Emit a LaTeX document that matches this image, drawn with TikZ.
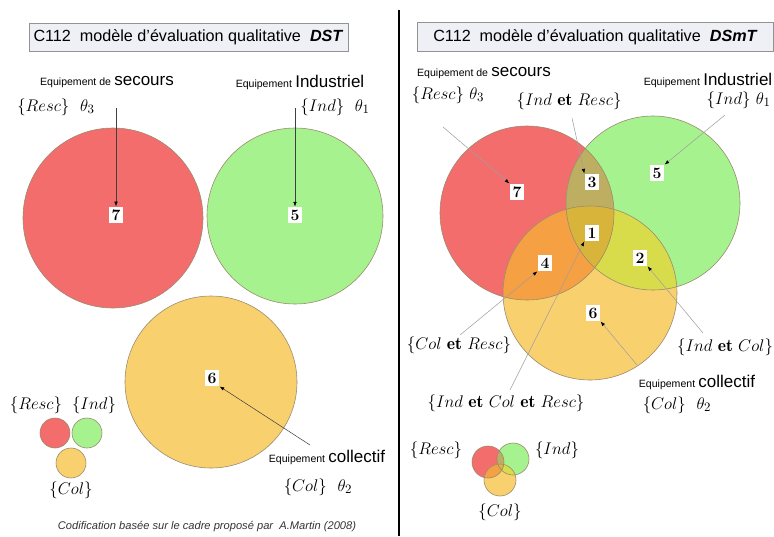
\documentclass[tikz,border=0pt]{standalone}
\usepackage{amsmath,amssymb}
\usepackage{fontspec}
\setsansfont{Liberation Sans}
\usetikzlibrary{arrows.meta}
\definecolor{rescC}{HTML}{F36D6D}
\definecolor{indC}{HTML}{A6F28E}
\definecolor{colC}{HTML}{F8D06E}
\definecolor{oliveC}{HTML}{BDAE62}
\definecolor{orangeC}{HTML}{F5A043}
\definecolor{limeC}{HTML}{D9DC4A}
\definecolor{goldC}{HTML}{D9B43A}
\definecolor{ringC}{HTML}{9A8A70}
\definecolor{headC}{HTML}{EEF0F6}
\newcommand{\equiplbl}[2]{{\fontsize{9}{11}\selectfont #1} {\fontsize{14.5}{16}\selectfont #2}}
\newcommand{\vennfill}[4]{%
  \fill[rescC] (#1) circle[radius=#4];
  \fill[indC] (#2) circle[radius=#4];
  \fill[colC] (#3) circle[radius=#4];
  \begin{scope}\clip (#2) circle[radius=#4]; \fill[limeC] (#3) circle[radius=#4];\end{scope}
  \begin{scope}\clip (#1) circle[radius=#4];
    \fill[oliveC] (#2) circle[radius=#4]; \fill[orangeC] (#3) circle[radius=#4];
    \clip (#2) circle[radius=#4]; \fill[goldC] (#3) circle[radius=#4];\end{scope}
  \draw[ring] (#1) circle[radius=#4] (#2) circle[radius=#4] (#3) circle[radius=#4];}

\begin{document}
\begin{tikzpicture}[x=0.3mm, y=-0.3mm, font=\fontsize{15}{17}\selectfont,
  headbox/.style={draw=gray!85, fill=headC, line width=0.8pt, minimum height=8.6mm, font=\sffamily\fontsize{13.8}{16}\selectfont},
  num/.style={fill=white, inner xsep=2.5pt, inner ysep=2.5pt, font=\bfseries\fontsize{13.5}{15}\selectfont},
  equip/.style={font=\sffamily},
  ring/.style={draw=ringC, line width=0.5pt},
  ptr/.style={-{Latex[length=4pt,width=3pt,color=black]}, draw=gray!75, line width=0.45pt},
  ptrdark/.style={ptr, draw=black!75}]
\useasboundingbox (0,0) rectangle (774,536);
\draw[line width=1.5pt] (399,10) -- (399,536);
% DST
\node[headbox, minimum width=95.7mm] (headL) at (188.5,37.5) {C112\ \ modèle d'évaluation qualitative\ \ \textbf{\textit{DST}}};
\fill[rescC] (113,218) circle[radius=27mm]; \draw[ring] (113,218) circle[radius=27mm];
\fill[indC] (295,216) circle[radius=26.4mm]; \draw[ring] (295,216) circle[radius=26.4mm];
\fill[colC] (211,382) circle[radius=25.8mm]; \draw[ring] (211,382) circle[radius=25.8mm];
\node[equip] (secL) at (107,82) {\equiplbl{Equipement de}{secours}};
\node (rescL) at (56,107) {$\{Resc\}\ \ \theta_3$};
\node[equip] (indtxtL) at (300,82) {\equiplbl{Equipement}{Industriel}};
\node (indL) at (335,107) {$\{Ind\}\ \ \theta_1$};
\node[equip] (coltxtL) at (327,457) {\equiplbl{Equipement}{collectif}};
\node (colL) at (318,487) {$\{Col\}\ \ \theta_2$};
\node[num] (n7L) at (116,215) {7};
\node[num] (n5L) at (295,215) {5};
\node[num] (n6L) at (212,378) {6};
\coordinate (p7L) at (116,108);
\coordinate (p5L) at (295,108);
\coordinate (p6L) at (310,445);
\draw[ptrdark] (p7L) -- (n7L.north);
\draw[ptrdark] (p5L) -- (n5L.north);
\draw[ptrdark] (p6L) -- (n6L.south east);
\fill[rescC] (55,433) circle[radius=4.5mm]; \draw[ring] (55,433) circle[radius=4.5mm];
\fill[indC] (87,433) circle[radius=4.5mm]; \draw[ring] (87,433) circle[radius=4.5mm];
\fill[colC] (71,463) circle[radius=4.5mm]; \draw[ring] (71,463) circle[radius=4.5mm];
\node (sRescL) at (36,405) {$\{Resc\}$};
\node (sIndL) at (94,405) {$\{Ind\}$};
\node (sColL) at (71,490) {$\{Col\}$};
\node[font=\sffamily\itshape\fontsize{9.5}{11}\selectfont, text=black!80] (credit) at (207,527) {Codification basée sur le cadre proposé par\ \ A.Martin (2008)};
% DSmT
\node[headbox, minimum width=106.8mm] (headR) at (595.5,37) {C112\ \ modèle d'évaluation qualitative\ \ \textbf{\textit{DSmT}}};
\coordinate (R) at (527,213); \coordinate (G) at (653,203); \coordinate (Y) at (590,293);
\vennfill{R}{G}{Y}{26.1mm}
\node[equip] (secR) at (484,73) {\equiplbl{Equipement de}{secours}};
\node (rescR) at (448,95) {$\{Resc\}\ \theta_3$};
\node (irR) at (569,101) {$\{Ind\ \mathbf{et}\ Resc\}$};
\node[equip] (indtxtR) at (708,80) {\equiplbl{Equipement}{Industriel}};
\node[anchor=east, inner sep=1pt] (indR) at (772,100) {$\{Ind\}\ \theta_1$};
\node (crR) at (459,345) {$\{Col\ \mathbf{et}\ Resc\}$};
\node (icrR) at (506,403) {$\{Ind\ \mathbf{et}\ Col\ \mathbf{et}\ Resc\}$};
\node (icR) at (725,347) {$\{Ind\ \mathbf{et}\ Col\}$};
\node[equip] (coltxtR) at (697,382) {\equiplbl{Equipement}{collectif}};
\node (colR) at (677,405) {$\{Col\}\ \ \theta_2$};
\node[num] (n7R) at (517,192) {7};
\node[num] (n3R) at (592,182) {3};
\node[num] (n5R) at (657,173) {5};
\node[num] (n1R) at (592,233) {1};
\node[num] (n4R) at (545,263) {4};
\node[num] (n2R) at (640,258) {2};
\node[num] (n6R) at (593,313) {6};
\coordinate (p7R) at (443,127);
\coordinate (p3R) at (572,118);
\coordinate (p5R) at (725,115);
\coordinate (p4R) at (460,335);
\coordinate (p1R) at (510,390);
\coordinate (p2R) at (703,333);
\coordinate (p6R) at (637,365);
\draw[ptr] (p7R) -- (n7R.north west);
\draw[ptr] (p3R) -- (n3R.north west);
\draw[ptr] (p5R) -- (n5R.north east);
\draw[ptr] (p4R) -- (n4R.south west);
\draw[ptr] (p1R) -- (n1R.south west);
\draw[ptr] (p2R) -- (n2R.south east);
\draw[ptr] (p6R) -- (n6R.south east);
\coordinate (sR) at (488,462); \coordinate (sG) at (513,459); \coordinate (sY) at (500,480);
\vennfill{sR}{sG}{sY}{4.8mm}
\node (sRescR) at (436,450) {$\{Resc\}$};
\node (sIndR) at (557,450) {$\{Ind\}$};
\node (sColR) at (500,512) {$\{Col\}$};
\end{tikzpicture}
\end{document}
